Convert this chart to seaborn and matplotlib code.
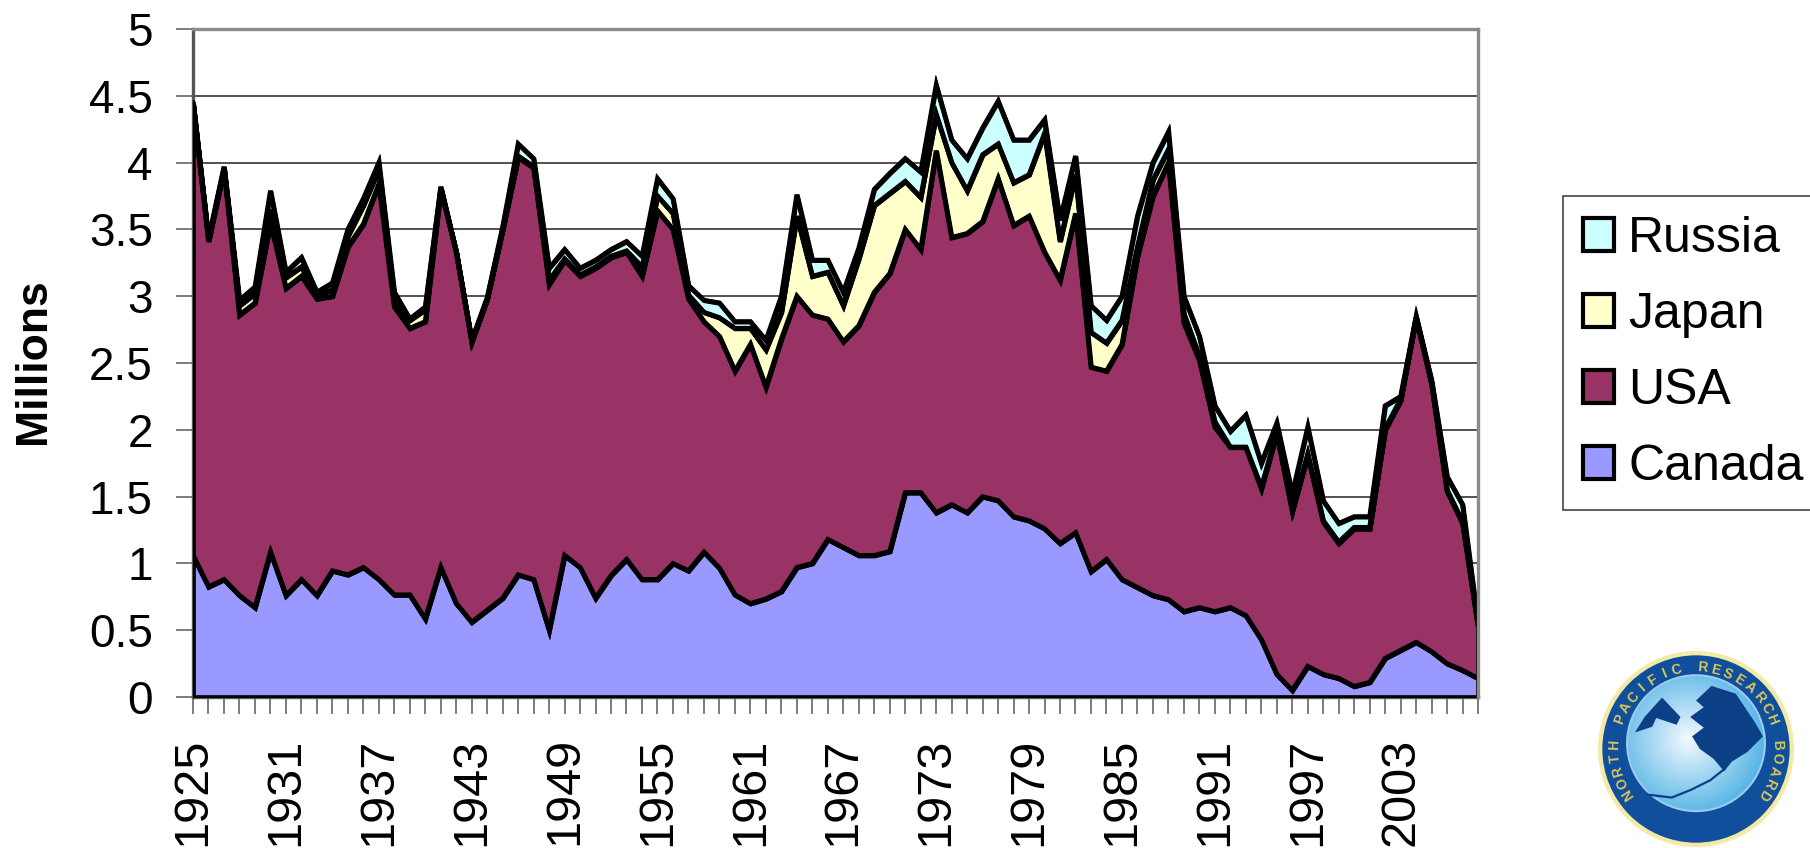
import numpy as np
import pandas as pd
import matplotlib
matplotlib.use("Agg")
import matplotlib.pyplot as plt
from matplotlib.patches import Patch, Ellipse, Polygon
from matplotlib.transforms import ScaledTranslation
import seaborn as sns

# ---- data: upper boundary of each stacked band, millions
years = list(range(1925, 2009))
canada_top = [1.06,.825,.88,.76,.67,1.085,.76,.88,.76,.945,.915,.97,.88,.765,.765,.585,.97,.70,.56,.65,.74,.915,.88,.50,
              1.06,.97,.74,.91,1.03,.88,.88,1.0,.945,1.085,.965,.765,.70,.735,.79,.97,1.0,1.18,1.12,1.06,1.06,1.09,
              1.53,1.53,1.38,1.44,1.38,1.5,1.47,1.35,1.32,1.26,1.15,1.23,.94,1.03,.88,.82,.76,.73,.64,.67,.64,.67,.61,.43,
              .17,.05,.23,.17,.14,.08,.11,.29,.35,.41,.34,.25,.2,.14]
usa_top = [4.44,3.41,3.95,2.86,2.95,3.55,3.06,3.15,2.98,3.0,3.37,3.54,3.84,2.92,2.76,2.81,3.8,3.33,2.66,2.98,3.5,4.04,3.96,3.09,
           3.27,3.15,3.21,3.29,3.33,3.15,3.64,3.5,2.98,2.81,2.70,2.44,2.64,2.32,2.68,3.0,2.86,2.83,2.66,2.78,3.03,3.17,
           3.5,3.35,4.09,3.44,3.47,3.56,3.88,3.53,3.6,3.33,3.12,3.62,2.47,2.44,2.64,3.3,3.75,4.0,2.8,2.52,2.02,1.87,1.87,1.56,
           1.97,1.39,1.81,1.31,1.15,1.26,1.26,2.0,2.22,2.84,2.34,1.54,1.30,.53]
japan_top = [4.45,3.42,3.96,2.93,3.02,3.65,3.14,3.22,3.0,3.05,3.45,3.68,3.95,2.95,2.82,2.9,3.81,3.33,2.66,2.98,3.5,4.05,3.97,3.12,
             3.28,3.16,3.22,3.30,3.34,3.22,3.75,3.62,3.01,2.88,2.84,2.76,2.76,2.6,2.88,3.6,3.15,3.18,2.93,3.28,3.68,3.77,
             3.86,3.74,4.36,4.0,3.79,4.06,4.14,3.85,3.91,4.22,3.41,3.91,2.73,2.65,2.82,3.37,3.87,4.1,2.87,2.55,2.06,1.87,1.87,1.57,
             1.98,1.40,1.82,1.32,1.16,1.27,1.27,2.01,2.23,2.84,2.35,1.55,1.31,.54]
russia_top = [4.45,3.43,3.97,2.97,3.07,3.79,3.18,3.29,3.03,3.1,3.5,3.73,4.0,3.03,2.83,2.92,3.82,3.33,2.67,2.99,3.52,4.14,4.03,3.21,
              3.35,3.21,3.27,3.35,3.41,3.3,3.88,3.73,3.08,2.97,2.95,2.81,2.81,2.67,3.0,3.76,3.27,3.27,3.03,3.36,3.80,3.92,
              4.03,3.93,4.58,4.17,4.03,4.26,4.46,4.17,4.17,4.32,3.57,4.05,2.93,2.82,3.0,3.6,4.0,4.23,3.0,2.7,2.18,1.99,2.11,1.75,
              2.05,1.52,2.02,1.47,1.30,1.35,1.35,2.18,2.25,2.85,2.37,1.65,1.44,.55]
series = ["Canada", "USA", "Japan", "Russia"]
colors = ["#9999FF", "#993366", "#FFFFCC", "#CCFFFF"]
x_labels_every = 6
y_ticks = [0, 0.5, 1, 1.5, 2, 2.5, 3, 3.5, 4, 4.5, 5]
y_tick_labels = ["0", "0.5", "1", "1.5", "2", "2.5", "3", "3.5", "4", "4.5", "5"]

W, H = 1810, 848
sns.set_theme(style="white")
plt.rcParams["font.family"] = ["Liberation Sans", "DejaVu Sans"]
fig = plt.figure(figsize=(W / 100, H / 100), dpi=100, facecolor="white")


def box(l, t, r, b):
    return [l / W, 1 - b / H, (r - l) / W, (b - t) / H]


ax = fig.add_axes(box(193, 29, 1478, 697))
tops = np.array([canada_top, usa_top, japan_top, russia_top])
bands = np.vstack([tops[0], np.diff(tops, axis=0)])
LW = 3.4
ax.stackplot(years, bands, colors=colors, labels=series, edgecolor="black",
             linewidth=LW, joinstyle="miter", zorder=2)
long = pd.DataFrame({"year": np.tile(years, 4), "level": tops.ravel(),
                     "series": np.repeat(series, len(years))})
sns.lineplot(data=long, x="year", y="level", hue="series", palette=["black"] * 4,
             linewidth=LW, legend=False, errorbar=None, ax=ax, zorder=3,
             solid_joinstyle="miter")

ax.set_xlim(years[0], years[-1])
ax.set_ylim(0, 5)
ax.set_axisbelow(True)
ax.yaxis.grid(True, color="#222222", lw=1.1)
ax.xaxis.grid(False)
ax.set_yticks(y_ticks, y_tick_labels, fontsize=33, color="black")
ax.set_xticks(years, [str(y) if (y - years[0]) % x_labels_every == 0 else "" for y in years],
              rotation=90, fontsize=35, color="black")
ax.tick_params(axis="y", length=12, width=1.2, color="#666666", pad=17, left=True)
ax.tick_params(axis="x", length=12, width=1.2, color="#666666", pad=17, bottom=True)
ax.set_xlabel("")
ax.set_ylabel("")
fig.text(33 / W, 1 - 361 / H, "Millions", rotation=90, fontsize=32, fontweight="bold",
         ha="center", va="center", color="black")
for name, sp in ax.spines.items():
    sp.set_visible(True)
    sp.set_color("#8a8a8a" if name in ("top", "right") else "#555555")
    sp.set_linewidth(2.4)
    sp.set_zorder(1 if name in ("left", "bottom") else 5)

# legend, top band first
handles = [Patch(facecolor=c, edgecolor="black", linewidth=3) for c in colors[::-1]]
leg = fig.legend(handles, series[::-1], loc="upper left",
                 bbox_to_anchor=(1563 / W, 1 - 196 / H), borderaxespad=0,
                 fontsize=36, frameon=True, fancybox=False, edgecolor="#444444",
                 framealpha=1, handlelength=0.62, handleheight=0.62, handletextpad=0.28,
                 labelspacing=0.6, borderpad=0.4, labelcolor="black")
leg.get_frame().set_linewidth(1.2)

# North Pacific Research Board seal
lg = fig.add_axes(box(1596, 650, 1796, 848))
lg.axis("off")
lg.add_patch(Ellipse((0, 0), 2.02, 2.02, fc="#F5E9A8", ec="none"))
lg.add_patch(Ellipse((0, 0), 1.93, 1.93, fc="#0F4F9C", ec="none"))
yy, xx = np.mgrid[-1:1:300j, -1:1:300j]
shade = np.clip(np.hypot(xx + 0.08, yy - 0.1) / 0.78, 0, 1)
rgb = np.dstack([0.96 - 0.62 * shade, 0.98 - 0.27 * shade, 1.0 - 0.1 * shade])
im = lg.imshow(rgb, extent=(-1, 1, -1, 1), origin="lower", zorder=2)
lg.set_xlim(-1.02, 1.02)
lg.set_ylim(-1.02, 1.02)
disc = Ellipse((0, 0.06), 1.42, 1.4, transform=lg.transData)
im.set_clip_path(disc)
lg.add_patch(Ellipse((0, 0.06), 1.42, 1.4, fc="none", ec="#9CCBEF", lw=1.5, zorder=3))
alaska = [(0, .5), (.16, .65), (.41, .57), (.61, .27), (.69, .13), (.53, -.03), (.37, -.13), (.29, -.23),
          (.18, -.1), (.04, 0), (-.04, .13), (.08, .22), (-.06, .33), (.08, .43)]
siberia = [(-.63, .17), (-.53, .33), (-.35, .53), (-.16, .33), (-.2, .25), (-.41, .32), (-.45, .23)]
for shape in (alaska, siberia):
    poly = Polygon(shape, fc="#0B3F86", ec="none", zorder=4)
    lg.add_patch(poly)
    poly.set_clip_path(disc)
lg.plot([-.5, -.25, -.05, .15, .3], [-.47, -.5, -.42, -.32, -.2], color="#0B3F86", lw=1.6, zorder=4)
ring = "NORTH PACIFIC RESEARCH BOARD"
angles = np.linspace(214, -34, len(ring))
for ch, a in zip(ring, angles):
    t = np.deg2rad(a)
    lg.text(.84 * np.cos(t), .84 * np.sin(t), ch, rotation=a - 90, rotation_mode="anchor",
            ha="center", va="center", fontsize=10, fontweight="bold", color="#D9C65A", zorder=5)

fig.savefig("out.png", dpi=100, facecolor="white")
